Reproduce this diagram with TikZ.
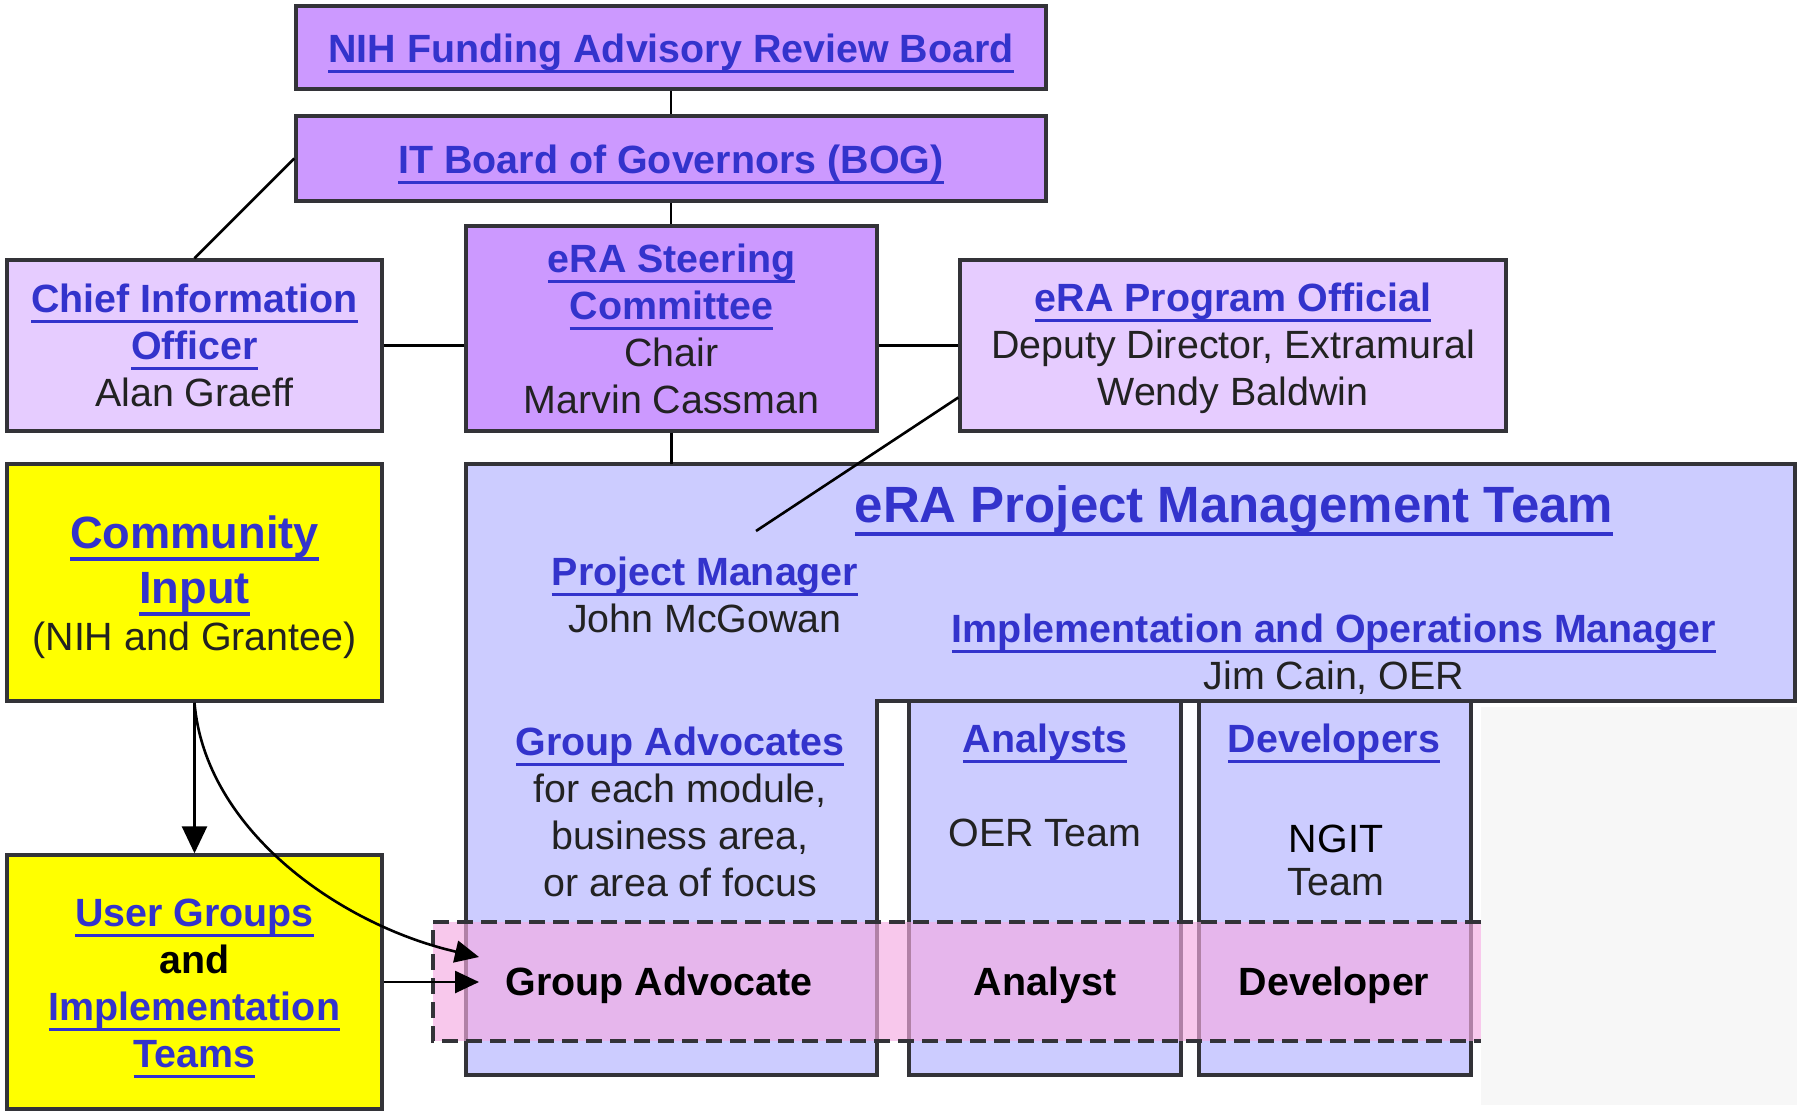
\documentclass[tikz,border=0pt]{standalone}
\usepackage{fontspec}
\setmainfont{Liberation Sans}
\usetikzlibrary{arrows.meta}

\definecolor{linkblue}{HTML}{3333CC}
\definecolor{inkgray}{HTML}{222222}
\definecolor{edgegray}{HTML}{333338}
\definecolor{boardpurple}{HTML}{CC99FF}
\definecolor{officelilac}{HTML}{E6CCFF}
\definecolor{teamblue}{HTML}{CCCCFF}
\definecolor{inputyellow}{HTML}{FFFF00}
\definecolor{rolepink}{RGB}{245,171,226}

\newcommand{\orgfont}{\fontsize{19.7}{23.5}\selectfont}
\newcommand{\bigorgfont}{\fontsize{22.6}{27}\selectfont}
\newcommand{\lnk}[1]{{\color{linkblue}\bfseries\setbox0\hbox{#1}\rlap{\smash{\rule[-0.27em]{\wd0}{0.075em}}}\box0}}

\begin{document}
\begin{tikzpicture}[x=0.5pt,y=-0.5pt]
\tikzstyle{every node}=[font=\orgfont,text=inkgray,align=center,inner sep=0pt]
\tikzstyle{orgbox}=[rectangle,draw=edgegray,line width=1.7pt]
\tikzstyle{boardbox}=[orgbox,fill=boardpurple]
\tikzstyle{officebox}=[orgbox,fill=officelilac]
\tikzstyle{inputbox}=[orgbox,fill=inputyellow]
\tikzstyle{teambox}=[draw=edgegray,line width=1.7pt,fill=teamblue]
\tikzstyle{roleband}=[draw=edgegray,line width=2pt,dash pattern=on 8pt off 4pt]
\tikzstyle{role}=[font=\orgfont\bfseries,text=black]
\tikzstyle{link}=[draw=black,line width=1.3pt]
\tikzstyle{flow}=[link,-{Triangle[length=12pt,width=11pt]}]
\useasboundingbox (0,0) rectangle (1797,1113);

% faint patch bottom right
\fill[black!3] (1481,707) rectangle (1797,1105);

% project management team and its columns
\draw[teambox] (466,464) -- (1795,464) -- (1795,701) -- (877,701) -- (877,1075) -- (466,1075) -- cycle;
\draw[teambox] (909,701) rectangle (1181,1075);
\draw[teambox] (1199,701) rectangle (1471,1075);
\coordinate (pmttop) at (671.5,464);
\coordinate (pmtjoin) at (756,531);

% dashed role band
\fill[rolepink,fill opacity=0.65] (433,922) rectangle (1481,1041);
\draw[roleband] (1481,922) -- (433,922) -- (433,1041) -- (1481,1041);
\coordinate (gacurve) at (479,957);
\coordinate (galine) at (479,982);

% boards and offices
\node[boardbox,minimum width=375pt,minimum height=41.5pt] (nih) at (671,47.5) {};
\node (nihtext) at ([yshift=-2.3pt]nih.center) {\lnk{NIH Funding Advisory Review Board}};
\node[boardbox,minimum width=375pt,minimum height=42.5pt] (bog) at (671,158.5) {};
\node (bogtext) at ([yshift=-2.3pt]bog.center) {\lnk{IT Board of Governors (BOG)}};
\node[officebox,minimum width=187.5pt,minimum height=85.5pt] (cio) at (194.5,345.5) {\lnk{Chief Information}\\\lnk{Officer}\\Alan Graeff};
\node[boardbox,minimum width=205.5pt,minimum height=102.5pt] (steer) at (671.5,328.5) {\lnk{eRA Steering}\\\lnk{Committee}\\Chair\\Marvin Cassman};
\node[officebox,minimum width=273pt,minimum height=85.5pt] (prog) at (1233,345.5) {};
\node (progtext) at ([yshift=-1.2pt]prog.center) {\lnk{eRA Program Official}\\Deputy Director, Extramural\\Wendy Baldwin};

% community side
\node[inputbox,minimum width=187.5pt,minimum height=118.5pt] (comm) at (194.5,582.5) {};
\node (commtext) at ([yshift=-2.3pt]comm.center) {{\bigorgfont\lnk{Community}}\\[4pt]{\bigorgfont\lnk{Input}}\\(NIH and Grantee)};
\node[inputbox,minimum width=187.5pt,minimum height=127pt] (ugrp) at (194.5,982) {};
\node (ugrptext) at ([yshift=-0.7pt]ugrp.center) {\lnk{User Groups}\\\textbf{\color{black}and}\\\lnk{Implementation}\\\lnk{Teams}};

% team texts
\node (pmt) at (1234,509) {\fontsize{25.5}{30}\selectfont\lnk{eRA Project Management Team}};
\node (pm) at (705,595) {\lnk{Project Manager}\\John McGowan};
\node (iom) at (1334,654) {\lnk{Implementation and Operations Manager}\\Jim Cain, OER};
\node (gas) at (680,812) {\lnk{Group Advocates}\\for each module,\\business area,\\or area of focus};
\node (ans) at (1045,742) {\lnk{Analysts}};
\node (oer) at (1045,833) {OER Team};
\node (devs) at (1334,742) {\lnk{Developers}};
\node (ngit) at (1336,860) {\textcolor{black}{NGIT}\\[-2pt]Team};
\node[role] (ga) at (659,985) {Group Advocate};
\node[role] (an) at (1045,985) {Analyst};
\node[role] (dev) at (1334,985) {Developer};

% connectors
\draw[link] (nih.south) -- (bog.north);
\draw[link] (bog.south) -- (bog.south |- steer.north);
\draw[link] (steer.south) -- (pmttop);
\draw[link] (cio.east) -- (cio.east -| steer.west);
\draw[link] (steer.east |- prog.west) -- (prog.west);
\draw[link] (cio.north) -- (bog.west);
\draw[link] ([yshift=-26pt]prog.west) -- (pmtjoin);
\draw[flow,-{Triangle[length=13.5pt,width=12.5pt]}] (comm.south) -- (ugrp.north);
\draw[flow] (comm.south) .. controls (205,830) and (340,925) .. (gacurve);
\draw[flow] (ugrp.east) -- (galine);
\end{tikzpicture}
\end{document}
